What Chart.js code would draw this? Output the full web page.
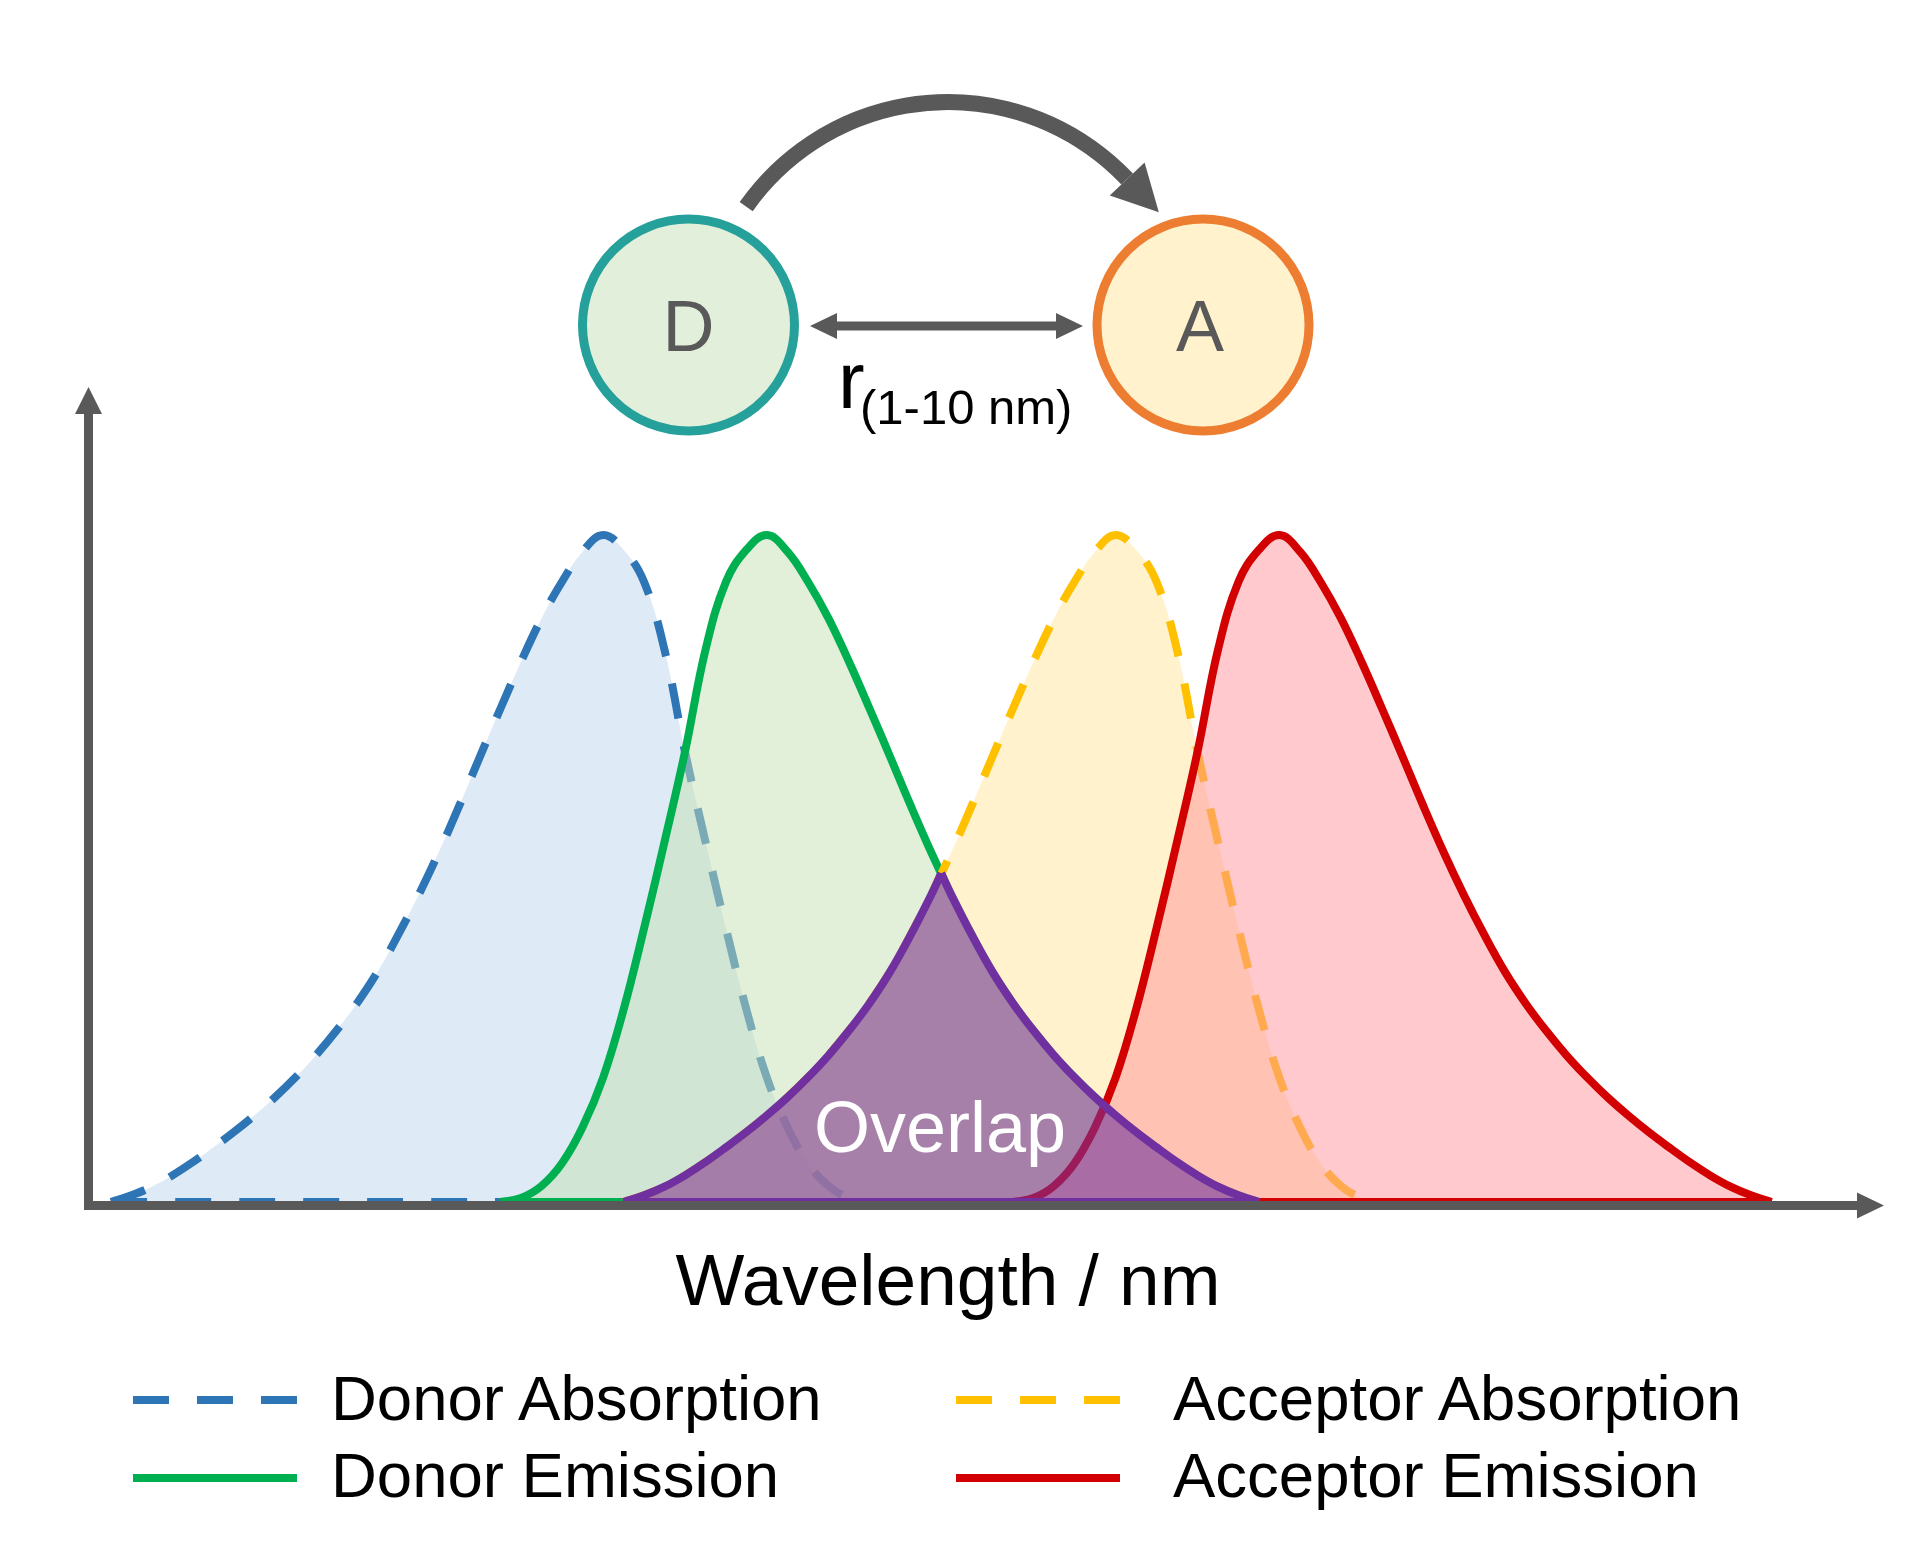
<!DOCTYPE html>
<html><head><meta charset="utf-8">
<script src="https://cdn.jsdelivr.net/npm/chart.js@4.4.1/dist/chart.umd.min.js"></script>
<style>
html,body{margin:0;padding:0;background:#fff;}
#wrap{position:relative;width:1927px;height:1551px;overflow:hidden;background:#fff;}
#c{position:absolute;left:0;top:0;}
.t{position:absolute;white-space:nowrap;font-family:"Liberation Sans",Arial,sans-serif;line-height:1;color:#000;}
</style></head><body>
<div id="wrap"><canvas id="c" width="1927" height="1551"></canvas></div>
<script>
// ---- data (wavelength grid, nm) ----
const wavelength = [360,365,370,375,380,385,390,395,400,405,410,415,420,425,430,435,440,445,450,455,
460,465,470,475,480,485,490,495,500,505,510,515,520,525,530,535,540,545,550,555,
560,565,570,575,580,585,590,595,600,605,610,615,620,625,630,635,640,645,650,655,
660,665,670,675,680,685,690,695,700,705,710,715,720,725,730,735,740,745,750,755,
760,765];
const donorAbsorption = [0,0.01,0.023,0.04,0.06,0.082,0.105,0.13,0.157,0.187,0.22,0.257,0.298,0.345,0.40,0.46,0.525,0.595,0.668,0.74,
0.81,0.875,0.93,0.975,1.0,0.978,0.93,0.828,0.675,0.54,0.41,0.288,0.186,0.112,0.058,0.024,0.006,0,0,0,
0,0,0,0,0,0,0,0,0,0,0,0,0,0,0,0,0,0,0,0,
0,0,0,0,0,0,0,0,0,0,0,0,0,0,0,0,0,0,0,0,
0,0];
const donorEmission = [0,0,0,0,0,0,0,0,0,0,0,0,0,0,0,0,0,0,0,0,
0.006,0.024,0.058,0.112,0.186,0.288,0.41,0.54,0.675,0.828,0.93,0.978,1.0,0.975,0.93,0.875,0.81,0.74,0.668,0.595,
0.525,0.46,0.40,0.345,0.298,0.257,0.22,0.187,0.157,0.13,0.105,0.082,0.06,0.04,0.023,0.01,0,0,0,0,
0,0,0,0,0,0,0,0,0,0,0,0,0,0,0,0,0,0,0,0,
0,0];
const acceptorAbsorption = [0,0,0,0,0,0,0,0,0,0,0,0,0,0,0,0,0,0,0,0,
0,0,0,0,0,0,0.01,0.023,0.04,0.06,0.082,0.105,0.13,0.157,0.187,0.22,0.257,0.298,0.345,0.40,
0.46,0.525,0.595,0.668,0.74,0.81,0.875,0.93,0.975,1.0,0.978,0.93,0.828,0.675,0.54,0.41,0.288,0.186,0.112,0.058,
0.024,0.006,0,0,0,0,0,0,0,0,0,0,0,0,0,0,0,0,0,0,
0,0];
const acceptorEmission = [0,0,0,0,0,0,0,0,0,0,0,0,0,0,0,0,0,0,0,0,
0,0,0,0,0,0,0,0,0,0,0,0,0,0,0,0,0,0,0,0,
0,0,0,0,0,0.006,0.024,0.058,0.112,0.186,0.288,0.41,0.54,0.675,0.828,0.93,0.978,1.0,0.975,0.93,
0.875,0.81,0.74,0.668,0.595,0.525,0.46,0.40,0.345,0.298,0.257,0.22,0.187,0.157,0.13,0.105,0.082,0.06,0.04,0.023,
0.01,0];
const overlapWavelength = [485,490,495,500,505,510,515,520,525,530,535,540,545,550,555,560,562.5,565,570,575,
580,585,590,595,600,605,610,615,620,625,630,635,640];
const overlapValues = [0,0.01,0.023,0.04,0.06,0.082,0.105,0.13,0.157,0.187,0.22,0.257,0.298,0.345,0.40,0.46,0.493,0.46,0.40,0.345,
0.298,0.257,0.22,0.187,0.157,0.13,0.105,0.082,0.06,0.04,0.023,0.01,0];
const seriesNames = ['Donor Absorption','Donor Emission','Acceptor Absorption','Acceptor Emission'];

// ---- helpers ----
function trimmed(xs, ys){
  let a = ys.findIndex(v => v > 0);
  let b = ys.length - 1 - [...ys].reverse().findIndex(v => v > 0);
  a = Math.max(0, a - 1); b = Math.min(ys.length - 1, b + 1);
  return xs.slice(a, b + 1).map((x, i) => ({x: x, y: ys[a + i]}));
}
function baseOf(pts){ return [{x: pts[0].x, y: 0}, {x: pts[pts.length - 1].x, y: 0}]; }

const looks = [
  {line:'#2E75B6', fill:'rgba(189,215,238,0.5)', dash:[36,28]},
  {line:'#00B050', fill:'rgba(197,224,180,0.5)', dash:[]},
  {line:'#FFC000', fill:'rgba(255,230,153,0.5)', dash:[36,28]},
  {line:'#D20000', fill:'rgba(255,147,155,0.5)', dash:[]}
];
const allSeries = [donorAbsorption, donorEmission, acceptorAbsorption, acceptorEmission];
const datasets = [];
allSeries.forEach((ys, k) => {
  const pts = trimmed(wavelength, ys);
  const lk = looks[k];
  datasets.push({label: seriesNames[k], data: pts, borderColor: lk.line, backgroundColor: lk.fill,
    borderDash: lk.dash, fill: 'origin', order: 10 - k});
  datasets.push({label: seriesNames[k] + ' base', data: baseOf(pts), borderColor: lk.line,
    borderDash: lk.dash, fill: false, order: 9.5 - k});
});
const ovPts = overlapWavelength.map((x, i) => ({x: x, y: overlapValues[i]}));
const pk = overlapValues.indexOf(Math.max(...overlapValues));
datasets.push({label:'Overlap', data: ovPts, borderWidth: 0, borderColor:'rgba(0,0,0,0)',
  backgroundColor:'rgba(112,48,160,0.57)', fill:'origin', order: 5, tension: 0.25});
datasets.push({label:'Overlap L', data: ovPts.slice(0, pk + 1), borderColor:'#7030A0', fill:false, order: 4.9});
datasets.push({label:'Overlap R', data: ovPts.slice(pk), borderColor:'#7030A0', fill:false, order: 4.8});
datasets.push({label:'Overlap base', data: baseOf(ovPts), borderColor:'#7030A0', fill:false, order: 4.7});

const axesPlugin = {
  id: 'arrowAxes',
  afterDatasetsDraw(chart){
    const c = chart.ctx, xs = chart.scales.x, ys = chart.scales.y;
    const yb = ys.getPixelForValue(0), xl = xs.left, xr = xs.right, yt = ys.top;
    c.save();
    c.fillStyle = '#595959';
    c.fillRect(xl - 4, yb - 1, (xr - 27) - (xl - 4), 9);
    c.fillRect(xl - 4, yt + 26, 9, yb + 8 - (yt + 26));
    c.beginPath(); c.moveTo(xl + 0.5, yt); c.lineTo(xl - 13, yt + 27); c.lineTo(xl + 14, yt + 27); c.closePath(); c.fill();
    c.beginPath(); c.moveTo(xr, yb + 3.5); c.lineTo(xr - 27, yb - 9.5); c.lineTo(xr - 27, yb + 16.5); c.closePath(); c.fill();
    c.restore();
  },
  afterDraw(chart){
    const c = chart.ctx;
    c.save();
    function circle(x, y, r, f, s){
      c.beginPath(); c.arc(x, y, r, 0, Math.PI * 2); c.fillStyle = f; c.fill();
      c.lineWidth = 9; c.strokeStyle = s; c.stroke();
    }
    circle(688.5, 325, 106, '#E2EFDA', '#26A09A');
    circle(1203, 325, 106, '#FFF2CC', '#ED7D31');
    c.fillStyle = '#595959'; c.strokeStyle = '#595959';
    c.lineWidth = 9; c.lineCap = 'butt';
    c.beginPath(); c.moveTo(834, 326); c.lineTo(1059, 326); c.stroke();
    c.beginPath(); c.moveTo(810, 326); c.lineTo(837, 313); c.lineTo(837, 339); c.closePath(); c.fill();
    c.beginPath(); c.moveTo(1083, 326); c.lineTo(1056, 313); c.lineTo(1056, 339); c.closePath(); c.fill();
    const cx = 948, cy = 349, R = 247, a0 = -144.8 * Math.PI / 180, a1 = -43.5 * Math.PI / 180;
    c.lineWidth = 16;
    c.beginPath(); c.arc(cx, cy, R, a0, a1, false); c.stroke();
    const bx = cx + R * Math.cos(a1), by = cy + R * Math.sin(a1);
    const tx = -Math.sin(a1), ty = Math.cos(a1);
    const nx = ty, ny = -tx;
    c.beginPath();
    c.moveTo(bx + 46 * tx, by + 46 * ty);
    c.lineTo(bx + 24 * nx, by + 24 * ny);
    c.lineTo(bx - 24 * nx, by - 24 * ny);
    c.closePath(); c.fill();
    c.restore();
  }
};

new Chart(document.getElementById('c'), {
  type: 'line',
  data: {datasets: datasets},
  options: {
    responsive: false, animation: false, devicePixelRatio: 1, events: [],
    layout: {padding: {left: 88, right: 43, top: 387, bottom: 349}},
    scales: {
      x: {type: 'linear', min: 354.39, max: 792.44, display: false},
      y: {type: 'linear', min: 0, max: 1.222, display: false}
    },
    plugins: {legend: {display: false}, tooltip: {enabled: false}},
    elements: {
      point: {radius: 0},
      line: {borderWidth: 8, tension: 0.4, capBezierPoints: true, borderCapStyle: 'butt', borderJoinStyle: 'round'}
    }
  },
  plugins: [axesPlugin]
});

// ---- text labels (real DOM text) ----
const wrap = document.getElementById('wrap');
function label(str, x, baseline, size, opt){
  opt = opt || {};
  const s = document.createElement('div');
  s.className = 't';
  s.textContent = str;
  s.style.fontSize = size + 'px';
  s.style.top = (baseline - 0.8465 * size) + 'px';
  s.style.left = x + 'px';
  if (opt.center) s.style.transform = 'translateX(-50%)';
  if (opt.color) s.style.color = opt.color;
  wrap.appendChild(s);
  return s;
}
label('D', 688.5, 351, 72, {center:true, color:'#595959'});
label('A', 1200, 351, 72, {center:true, color:'#595959'});
label('r', 838, 409, 80);
label('(1-10 nm)', 860, 424, 49);
label('Overlap', 940, 1152, 72, {center:true, color:'#ffffff'});
label('Wavelength / nm', 948, 1305, 73, {center:true});

// legend
const legendCanvas = document.createElement('canvas');
legendCanvas.width = 1927; legendCanvas.height = 1551;
legendCanvas.style.position = 'absolute'; legendCanvas.style.left = '0'; legendCanvas.style.top = '0';
wrap.appendChild(legendCanvas);
const lc = legendCanvas.getContext('2d');
const legendSlots = [[133, 1400, 331, 1421], [133, 1478, 331, 1498], [956, 1400, 1173, 1421], [956, 1478, 1173, 1498]];
seriesNames.forEach((nm, k) => {
  const [lx, ly, tx, tb] = legendSlots[k];
  lc.save();
  lc.strokeStyle = looks[k].line; lc.lineWidth = 8; lc.lineCap = 'butt';
  lc.setLineDash(looks[k].dash);
  lc.beginPath(); lc.moveTo(lx, ly); lc.lineTo(lx + 164, ly); lc.stroke();
  lc.restore();
  label(nm, tx, tb, 63.5);
});
</script>
</body></html>
